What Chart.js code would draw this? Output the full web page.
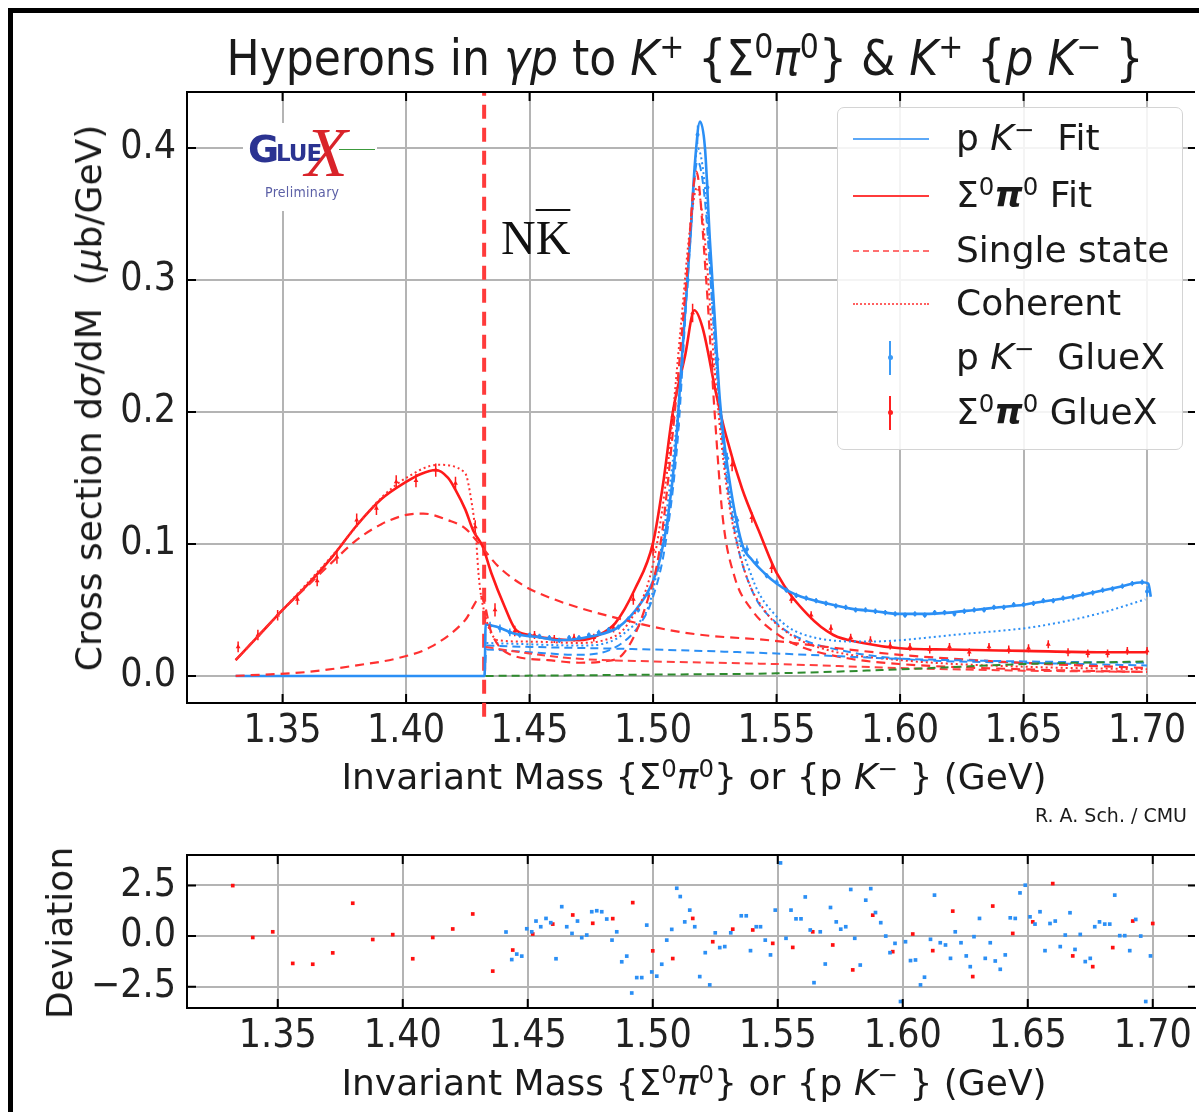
<!DOCTYPE html>
<html lang="en">
<head>
<meta charset="UTF-8">
<title>Hyperons in γp to K+ {Σ0π0} & K+ {p K−}</title>
<script src="https://cdn.jsdelivr.net/npm/chart.js"></script>
<style>
  * { margin: 0; padding: 0; box-sizing: border-box; }
  body { width: 1199px; height: 1112px; background: #fff; position: relative; overflow: hidden;
         font-family: 'DejaVu Sans Condensed', 'DejaVu Sans', sans-serif; color: #1a1a1a; }
  .frame { position: absolute; left: 8px; top: 8px; width: 1400px; height: 1300px; border: 5px solid #000; }
  canvas { position: absolute; left: 0; }
  #main { top: 0; }
  #dev { top: 800px; }
  .txt { position: absolute; white-space: nowrap; line-height: 1; }
  sup { font-size: 0.68em; vertical-align: 0.5em; line-height: 0; }
  .rot { transform: translate(-50%, -50%) rotate(-90deg); }
  .ctr { transform: translate(-50%, -50%); }
  .norm { font-family: 'DejaVu Sans', sans-serif; }
  #title { left: 0; width: 1370px; top: 34px; text-align: center; font-size: 49px; }
  #ylab { left: 89px; top: 398px; font-size: 36px; }
  #xlab { left: 694px; top: 777px; font-size: 36px; }
  #xlab2 { left: 694px; top: 1083px; font-size: 36px; }
  #devlab { left: 60px; top: 933px; font-size: 36px; }
  #credit { left: 1035px; top: 806px; font-size: 19px; }
  #nk { left: 501px; top: 214px; font-family: 'Liberation Serif', serif; font-size: 48px; color: #111; }
  #nk .bar { text-decoration: overline; text-decoration-thickness: 2px; }
  #legend { position: absolute; left: 837px; top: 107px; width: 346px; height: 343px;
            border: 1.5px solid #d4d4d4; border-radius: 7px; background: rgba(255,255,255,0.85);
            font-family: 'DejaVu Sans', sans-serif; font-size: 36px; }
  #legend .row { position: absolute; left: 0; height: 0; width: 100%; }
  #legend .smp { position: absolute; left: 15px; width: 76px; top: -1px; }
  #legend .lab { position: absolute; left: 118px; top: 0; transform: translateY(-52%); white-space: nowrap; line-height: 1; }
  #legend .eb { position: absolute; left: 51px; width: 2px; height: 34px; top: -17px; }
  #legend .eb::after { content: ''; position: absolute; left: -1.5px; top: 14px; width: 5px; height: 5px; border-radius: 50%; background: inherit; }
  #logo { position: absolute; left: 243px; top: 123px; width: 134px; height: 88px; background: #fff; }
  #logo span { position: absolute; font-weight: bold; color: #2b3391; font-family: 'DejaVu Sans', sans-serif; }
  #logo .pre { position: absolute; left: 22px; top: 61px; font-size: 14px; color: #5b5fa6; font-family: 'DejaVu Sans Condensed', sans-serif; letter-spacing: 0.3px; }
</style>
</head>
<body>
<div class="frame"></div>
<canvas id="main" width="1199" height="770"></canvas>
<canvas id="dev" width="1199" height="260"></canvas>

<div id="logo">
  <span style="left:5px;top:4px;font-size:38px;">G</span>
  <span style="left:33px;top:17px;font-size:23px;letter-spacing:-1px;">LUE</span>
  <div style="position:absolute;left:96px;top:26px;width:36px;height:1px;background:#3c9a3c;"></div>
  <span style="left:62px;top:-10px;font-size:70px;color:#d9232a;font-family:'Liberation Serif',serif;font-style:italic;font-weight:normal;">X</span>
  <div class="pre">Preliminary</div>
</div>

<div id="nk" class="txt">N<span class="bar">K</span></div>

<div id="title" class="txt">Hyperons in <i>γp</i> to <i>K</i><sup>+</sup> {Σ<sup>0</sup><i>π</i><sup>0</sup>} &amp; <i>K</i><sup>+</sup> {<i>p K</i><sup>−</sup> }</div>
<div id="ylab" class="txt rot norm">Cross section d<i>σ</i>/dM&nbsp; (<i>μ</i>b/GeV)</div>
<div id="xlab" class="txt ctr norm">Invariant Mass {Σ<sup>0</sup><i>π</i><sup>0</sup>} or {p <i>K</i><sup>−</sup> } (GeV)</div>
<div id="credit" class="txt norm">R. A. Sch. / CMU</div>
<div id="devlab" class="txt rot norm">Deviation</div>
<div id="xlab2" class="txt ctr norm">Invariant Mass {Σ<sup>0</sup><i>π</i><sup>0</sup>} or {p <i>K</i><sup>−</sup> } (GeV)</div>

<div id="legend">
  <div class="row" style="top:31px"><span class="smp" style="border-top:2px solid #5ca8f7"></span><span class="lab">p <i>K</i><sup>−</sup>&nbsp; Fit</span></div>
  <div class="row" style="top:88px"><span class="smp" style="border-top:2px solid #ff3b3b"></span><span class="lab">Σ<sup>0</sup><i><b>π</b></i><sup>0</sup> Fit</span></div>
  <div class="row" style="top:143px"><span class="smp" style="border-top:2px dashed #ff7070"></span><span class="lab">Single state</span></div>
  <div class="row" style="top:196px"><span class="smp" style="border-top:2px dotted #ff6060"></span><span class="lab">Coherent</span></div>
  <div class="row" style="top:250px"><span class="eb" style="background:#3d9bf5"></span><span class="lab">p <i>K</i><sup>−</sup>&nbsp; GlueX</span></div>
  <div class="row" style="top:305px"><span class="eb" style="background:#ff2020"></span><span class="lab">Σ<sup>0</sup><i><b>π</b></i><sup>0</sup> GlueX</span></div>
</div>

<script>
// axes
const massTicks = [1.35, 1.40, 1.45, 1.50, 1.55, 1.60, 1.65, 1.70];
const xsecTicks = [0.0, 0.1, 0.2, 0.3, 0.4];
const devTicks = [-2.5, 0.0, 2.5];
const thresholdMass = 1.4316;

// Σ0π0 fit (solid red)
const redFitX = [1.331, 1.34, 1.35, 1.36, 1.37, 1.38, 1.39, 1.40, 1.406, 1.412, 1.417, 1.42, 1.424, 1.4272, 1.431, 1.4345, 1.44, 1.444, 1.45, 1.46, 1.47, 1.478, 1.4847, 1.4927, 1.50, 1.504, 1.508, 1.513, 1.5167, 1.52, 1.5254, 1.5294, 1.536, 1.5428, 1.55, 1.5628, 1.573, 1.585, 1.60, 1.62, 1.65, 1.68, 1.70];
const redFitY = [0.012, 0.030, 0.050, 0.069, 0.090, 0.114, 0.134, 0.147, 0.153, 0.156, 0.150, 0.141, 0.126, 0.110, 0.098, 0.078, 0.052, 0.036, 0.031, 0.028, 0.027, 0.031, 0.040, 0.066, 0.101, 0.145, 0.200, 0.243, 0.277, 0.264, 0.215, 0.183, 0.142, 0.110, 0.078, 0.046, 0.031, 0.025, 0.021, 0.020, 0.019, 0.018, 0.018];

// single states, Σ0π0 (dashed red)
const redSingle1X = [1.331, 1.34, 1.35, 1.36, 1.37, 1.38, 1.39, 1.40, 1.407, 1.417, 1.4238, 1.4305, 1.4373, 1.448, 1.46, 1.4695, 1.485, 1.5058, 1.52, 1.5473, 1.57, 1.60, 1.63, 1.66, 1.70];
const redSingle1Y = [0.012, 0.030, 0.050, 0.068, 0.086, 0.103, 0.115, 0.122, 0.123, 0.118, 0.112, 0.098, 0.083, 0.068, 0.058, 0.052, 0.044, 0.035, 0.031, 0.027, 0.022, 0.016, 0.012, 0.009, 0.006];
const redSingle2X = [1.331, 1.36, 1.38, 1.397, 1.41, 1.4238, 1.4305, 1.4345, 1.4413, 1.4574, 1.47, 1.48, 1.488, 1.4965, 1.503, 1.5088, 1.5135, 1.5175, 1.5215, 1.5249, 1.5282, 1.533, 1.54, 1.55, 1.56, 1.58, 1.60, 1.65, 1.70];
const redSingle2Y = [0.0, 0.003, 0.008, 0.0136, 0.022, 0.042, 0.060, 0.033, 0.017, 0.012, 0.010, 0.011, 0.017, 0.050, 0.100, 0.200, 0.300, 0.382, 0.300, 0.200, 0.120, 0.075, 0.050, 0.032, 0.022, 0.013, 0.009, 0.005, 0.003];
const redSingle3X = [1.4322, 1.45, 1.47, 1.50, 1.55, 1.60, 1.65, 1.70];
const redSingle3Y = [0.022, 0.017, 0.013, 0.011, 0.009, 0.006, 0.004, 0.003];

// coherent, Σ0π0 (dotted red)
const redCohX = [1.331, 1.35, 1.37, 1.39, 1.40, 1.413, 1.4238, 1.4264, 1.4283, 1.4293, 1.4306, 1.4373, 1.45, 1.4695, 1.48, 1.49, 1.50, 1.506, 1.511, 1.515, 1.5178, 1.521, 1.525, 1.53, 1.537, 1.545, 1.555, 1.57, 1.60, 1.65, 1.70];
const redCohY = [0.012, 0.050, 0.091, 0.135, 0.150, 0.160, 0.154, 0.133, 0.105, 0.078, 0.058, 0.027, 0.026, 0.025, 0.027, 0.040, 0.085, 0.160, 0.260, 0.340, 0.370, 0.330, 0.230, 0.140, 0.080, 0.050, 0.032, 0.020, 0.012, 0.007, 0.005];

// p K− fit (solid blue)
const blueFitX = [1.331, 1.4318, 1.4322, 1.437, 1.444, 1.455, 1.462, 1.475, 1.486, 1.495, 1.50, 1.503, 1.506, 1.509, 1.512, 1.515, 1.517, 1.519, 1.521, 1.523, 1.525, 1.527, 1.53, 1.536, 1.54, 1.545, 1.55, 1.555, 1.56, 1.57, 1.58, 1.59, 1.60, 1.61, 1.62, 1.63, 1.64, 1.65, 1.66, 1.67, 1.68, 1.69, 1.698, 1.7005, 1.7015];
const blueFitY = [0.0, 0.0, 0.039, 0.037, 0.032, 0.029, 0.027, 0.030, 0.037, 0.055, 0.072, 0.090, 0.120, 0.170, 0.250, 0.330, 0.390, 0.420, 0.400, 0.330, 0.270, 0.210, 0.160, 0.100, 0.088, 0.078, 0.070, 0.064, 0.060, 0.055, 0.051, 0.049, 0.047, 0.047, 0.048, 0.050, 0.052, 0.054, 0.057, 0.060, 0.064, 0.068, 0.071, 0.070, 0.060];

// single states, p K− (dashed blue)
const blueSingle1X = [1.4318, 1.4325, 1.45, 1.47, 1.485, 1.495, 1.50, 1.505, 1.51, 1.514, 1.518, 1.521, 1.524, 1.528, 1.533, 1.54, 1.55, 1.56, 1.58, 1.60, 1.65, 1.70];
const blueSingle1Y = [0.0, 0.020, 0.018, 0.016, 0.022, 0.040, 0.060, 0.100, 0.180, 0.300, 0.390, 0.360, 0.280, 0.180, 0.110, 0.065, 0.040, 0.028, 0.018, 0.013, 0.010, 0.008];
const blueSingle2X = [1.4325, 1.45, 1.50, 1.55, 1.60, 1.65, 1.70];
const blueSingle2Y = [0.023, 0.022, 0.020, 0.017, 0.013, 0.011, 0.010];

// coherent, p K− (dotted blue)
const blueCohX = [1.4325, 1.45, 1.47, 1.49, 1.50, 1.51, 1.515, 1.518, 1.521, 1.525, 1.53, 1.54, 1.55, 1.56, 1.5864, 1.6267, 1.6537, 1.68, 1.6993];
const blueCohY = [0.025, 0.024, 0.023, 0.035, 0.065, 0.200, 0.330, 0.400, 0.370, 0.250, 0.150, 0.075, 0.045, 0.032, 0.026, 0.032, 0.037, 0.047, 0.058];

// background (dashed green)
const greenX = [1.4322, 1.47, 1.50, 1.55, 1.60, 1.65, 1.70];
const greenY = [0.0, 0.0005, 0.001, 0.002, 0.005, 0.009, 0.011];

// GlueX Σ0π0 data
const redDataX = [1.332, 1.340, 1.348, 1.356, 1.364, 1.372, 1.380, 1.388, 1.396, 1.404, 1.412, 1.420, 1.428, 1.436, 1.444, 1.452, 1.460, 1.468, 1.476, 1.484, 1.492, 1.500, 1.508, 1.516, 1.524, 1.532, 1.540, 1.548, 1.556, 1.564, 1.572, 1.580, 1.588, 1.596, 1.604, 1.612, 1.620, 1.628, 1.636, 1.644, 1.652, 1.660, 1.668, 1.676, 1.684, 1.692, 1.700];
const redDataY = [0.022, 0.031, 0.046, 0.058, 0.072, 0.090, 0.118, 0.127, 0.147, 0.148, 0.156, 0.146, 0.113, 0.050, 0.034, 0.031, 0.028, 0.029, 0.029, 0.036, 0.058, 0.096, 0.197, 0.275, 0.235, 0.160, 0.120, 0.082, 0.058, 0.046, 0.036, 0.029, 0.027, 0.023, 0.022, 0.020, 0.022, 0.018, 0.022, 0.020, 0.021, 0.024, 0.018, 0.017, 0.017, 0.019, 0.019];
const redDataErr = [0.004, 0.004, 0.004, 0.004, 0.004, 0.005, 0.005, 0.005, 0.005, 0.005, 0.005, 0.005, 0.005, 0.005, 0.004, 0.003, 0.003, 0.003, 0.003, 0.003, 0.004, 0.005, 0.006, 0.007, 0.006, 0.005, 0.004, 0.004, 0.003, 0.003, 0.003, 0.003, 0.003, 0.003, 0.003, 0.003, 0.003, 0.003, 0.003, 0.003, 0.003, 0.003, 0.003, 0.003, 0.003, 0.003, 0.003];

// GlueX p K− data
const blueDataX = [1.434, 1.438, 1.442, 1.446, 1.450, 1.454, 1.458, 1.462, 1.466, 1.470, 1.474, 1.478, 1.482, 1.486, 1.490, 1.494, 1.498, 1.502, 1.506, 1.510, 1.514, 1.518, 1.522, 1.526, 1.530, 1.534, 1.538, 1.542, 1.546, 1.550, 1.554, 1.558, 1.562, 1.566, 1.570, 1.574, 1.578, 1.582, 1.586, 1.590, 1.594, 1.598, 1.602, 1.606, 1.610, 1.614, 1.618, 1.622, 1.626, 1.630, 1.634, 1.638, 1.642, 1.646, 1.650, 1.654, 1.658, 1.662, 1.666, 1.670, 1.674, 1.678, 1.682, 1.686, 1.690, 1.694, 1.698, 1.700];
const blueDataY = [0.038, 0.036, 0.033, 0.031, 0.031, 0.030, 0.029, 0.027, 0.029, 0.029, 0.031, 0.033, 0.035, 0.037, 0.043, 0.050, 0.062, 0.082, 0.118, 0.190, 0.300, 0.410, 0.370, 0.240, 0.165, 0.118, 0.096, 0.086, 0.076, 0.071, 0.065, 0.061, 0.059, 0.057, 0.055, 0.053, 0.052, 0.050, 0.050, 0.049, 0.048, 0.047, 0.046, 0.047, 0.046, 0.048, 0.048, 0.047, 0.049, 0.050, 0.050, 0.052, 0.052, 0.054, 0.054, 0.055, 0.057, 0.057, 0.059, 0.060, 0.062, 0.063, 0.065, 0.066, 0.068, 0.070, 0.071, 0.064];
const blueDataErr = [0.003, 0.003, 0.003, 0.002, 0.002, 0.002, 0.002, 0.002, 0.002, 0.002, 0.002, 0.002, 0.002, 0.002, 0.002, 0.002, 0.003, 0.003, 0.004, 0.005, 0.006, 0.007, 0.006, 0.005, 0.004, 0.003, 0.003, 0.003, 0.002, 0.002, 0.002, 0.002, 0.002, 0.002, 0.002, 0.002, 0.002, 0.002, 0.002, 0.002, 0.002, 0.002, 0.002, 0.002, 0.002, 0.002, 0.002, 0.002, 0.002, 0.002, 0.002, 0.002, 0.002, 0.002, 0.002, 0.002, 0.002, 0.002, 0.002, 0.002, 0.002, 0.002, 0.002, 0.002, 0.002, 0.002, 0.002, 0.004];

// deviation panel: [mass, deviation]
const devRed = [[1.332,2.49],[1.340,-0.07],[1.348,0.21],[1.356,-1.35],[1.364,-1.39],[1.372,-0.83],[1.380,1.62],[1.388,-0.17],[1.396,0.07],[1.404,-1.12],[1.412,-0.07],[1.420,0.35],[1.428,1.09],[1.436,-1.73],[1.444,-0.69],[1.452,0.10],[1.460,0.59],[1.468,1.04],[1.476,0.63],[1.484,0.86],[1.492,1.65],[1.500,-0.73],[1.508,-1.11],[1.516,0.87],[1.524,-0.28],[1.532,0.34],[1.540,0.30],[1.548,-0.36],[1.556,-0.56],[1.564,0.21],[1.572,-0.44],[1.580,-1.67],[1.588,1.03],[1.596,-0.77],[1.604,0.10],[1.612,-0.72],[1.620,1.23],[1.628,-2.0],[1.636,1.48],[1.644,0.13],[1.652,0.70],[1.660,2.59],[1.668,-0.98],[1.676,-1.51],[1.684,-0.57],[1.692,0.74],[1.700,0.62]];
const devBlue = [[1.4413,0.20],[1.4436,-1.16],[1.4456,-0.89],[1.4476,-0.99],[1.4496,0.36],[1.4516,0.21],[1.4533,0.74],[1.4552,0.46],[1.4573,0.87],[1.4592,0.66],[1.4613,-1.12],[1.4636,1.45],[1.4656,0.46],[1.4677,0.13],[1.4699,0.74],[1.4716,-0.08],[1.4736,0.05],[1.4756,1.20],[1.4776,1.25],[1.4796,1.20],[1.4816,0.84],[1.4837,-0.20],[1.4856,0.21],[1.4876,-1.27],[1.4896,-0.99],[1.4916,-2.81],[1.4936,-2.05],[1.4956,-2.05],[1.4976,0.54],[1.4996,-1.77],[1.5016,-1.98],[1.5036,-1.39],[1.5056,-0.20],[1.5076,0.33],[1.5096,2.36],[1.5110,1.95],[1.5128,0.70],[1.5148,1.28],[1.5168,0.46],[1.5188,-2.0],[1.5210,-0.82],[1.5228,-2.41],[1.5250,0.16],[1.5268,-0.57],[1.5288,-0.52],[1.5312,0.16],[1.5354,1.0],[1.5374,1.0],[1.5391,-0.72],[1.5414,0.46],[1.5431,0.46],[1.5450,-0.20],[1.5471,-0.93],[1.5490,1.28],[1.5511,3.61],[1.5533,-0.11],[1.5553,1.28],[1.5573,0.85],[1.5593,0.85],[1.5610,1.93],[1.5630,0.30],[1.5645,-2.30],[1.5670,0.21],[1.5690,-1.38],[1.5711,1.41],[1.5734,0.70],[1.5752,0.34],[1.5772,0.46],[1.5792,2.30],[1.5808,-0.11],[1.5830,-1.43],[1.5852,1.77],[1.5872,2.34],[1.5891,1.16],[1.5912,0.66],[1.5932,0.0],[1.5949,-0.82],[1.5969,-0.36],[1.5991,-3.23],[1.6011,-0.28],[1.6031,-1.21],[1.6051,-1.18],[1.6071,-2.41],[1.6087,-2.03],[1.6111,-0.16],[1.6127,2.02],[1.6150,-0.33],[1.6171,-0.44],[1.6191,-1.10],[1.6210,0.21],[1.6233,-0.33],[1.6254,-0.98],[1.6270,-1.51],[1.6285,-0.03],[1.6307,0.87],[1.6330,-1.10],[1.6350,-0.33],[1.6370,-1.23],[1.6390,-1.64],[1.6410,-0.93],[1.6430,0.90],[1.6450,0.87],[1.6469,2.13],[1.6490,2.51],[1.6509,0.95],[1.6529,0.59],[1.6549,1.20],[1.6569,-0.72],[1.6589,0.62],[1.6610,0.74],[1.6630,-0.52],[1.6650,0.05],[1.6669,1.15],[1.6689,-0.66],[1.6710,0.08],[1.6730,-1.26],[1.6750,-1.10],[1.6768,0.46],[1.6787,0.70],[1.6808,0.59],[1.6828,0.59],[1.6848,2.02],[1.6868,0.02],[1.6888,0.02],[1.6908,-0.72],[1.6932,0.82],[1.6952,0.0],[1.6972,-3.23],[1.6991,-0.98]];

Chart.defaults.font.family = "'DejaVu Sans Condensed', 'DejaVu Sans', sans-serif";
Chart.defaults.color = '#222';

const RED = '#ff1a1a', BLUE = '#2b8ff5', GREEN = '#2e8b2e';
const pts = (xs, ys) => xs.map((x, i) => ({ x: x, y: ys[i] }));

function curve(xs, ys, color, dash, width) {
  return { data: pts(xs, ys), showLine: true, borderColor: color, borderWidth: width || 2,
           borderDash: dash || [], pointRadius: 0, cubicInterpolationMode: 'monotone' };
}

// draws error bars for datasets carrying an errors array
const errorBars = {
  id: 'errorBars',
  beforeDatasetDraw(chart, args) {
    const ds = chart.data.datasets[args.index];
    if (!ds.errors) return;
    const { ctx, scales: { x, y } } = chart;
    ctx.save();
    ctx.strokeStyle = ds.borderColor;
    ctx.lineWidth = 1.5;
    ctx.beginPath();
    ds.data.forEach((p, j) => {
      const px = x.getPixelForValue(p.x);
      ctx.moveTo(px, y.getPixelForValue(p.y - ds.errors[j]));
      ctx.lineTo(px, y.getPixelForValue(p.y + ds.errors[j]));
    });
    ctx.stroke();
    ctx.restore();
  }
};

// top spine and inward ticks like matplotlib
const spines = {
  id: 'spines',
  afterDraw(chart) {
    const { ctx, chartArea: a, scales: { x, y } } = chart;
    ctx.save();
    ctx.strokeStyle = '#000';
    ctx.lineWidth = 2;
    ctx.beginPath();
    ctx.moveTo(a.left, a.top); ctx.lineTo(a.right, a.top);
    x.ticks.forEach(t => {
      const px = x.getPixelForValue(t.value);
      ctx.moveTo(px, a.bottom); ctx.lineTo(px, a.bottom - 9);
      ctx.moveTo(px, a.top); ctx.lineTo(px, a.top + 9);
    });
    y.ticks.forEach(t => {
      const py = y.getPixelForValue(t.value);
      ctx.moveTo(a.left, py); ctx.lineTo(a.left + 9, py);
      ctx.moveTo(a.right, py); ctx.lineTo(a.right - 7, py);
    });
    ctx.stroke();
    ctx.restore();
  }
};

function axes(xMin, xMax, yMin, yMax, yTicks, yFmt, xHeight) {
  return {
    x: {
      type: 'linear', min: xMin, max: xMax,
      afterBuildTicks: s => { s.ticks = massTicks.map(v => ({ value: v })); },
      afterFit: s => { s.height = xHeight; },
      grid: { color: '#b4b4b4', lineWidth: 2, drawTicks: false },
      border: { color: '#000', width: 2 },
      ticks: { padding: 5, font: { size: 39 }, maxRotation: 0, autoSkip: false, callback: v => v.toFixed(2) }
    },
    y: {
      type: 'linear', min: yMin, max: yMax,
      afterBuildTicks: s => { s.ticks = yTicks.map(v => ({ value: v })); },
      afterFit: s => { s.width = 187; },
      grid: { color: '#b4b4b4', lineWidth: 2, drawTicks: false },
      border: { color: '#000', width: 2 },
      ticks: { padding: 11, font: { size: 39 }, autoSkip: false, callback: yFmt }
    }
  };
}

const common = {
  responsive: false, animation: false, events: [],
  plugins: { legend: { display: false }, tooltip: { enabled: false } }
};

new Chart(document.getElementById('main'), {
  type: 'scatter',
  data: {
    datasets: [
      curve(greenX, greenY, GREEN, [8, 5], 2),
      curve(redSingle3X, redSingle3Y, '#ff4040', [8, 5], 2),
      curve(blueSingle2X, blueSingle2Y, BLUE, [8, 5], 2),
      curve(redSingle1X, redSingle1Y, '#ff3030', [9, 6], 2.2),
      curve(redSingle2X, redSingle2Y, '#ff3030', [9, 6], 2.2),
      curve(redCohX, redCohY, '#ff3030', [2, 3], 2),
      curve(blueSingle1X, blueSingle1Y, BLUE, [8, 5], 2),
      curve(blueCohX, blueCohY, BLUE, [2, 3], 2),
      { data: pts(blueDataX, blueDataY), errors: blueDataErr, borderColor: BLUE, backgroundColor: BLUE,
        pointRadius: 2, pointBorderWidth: 0 },
      curve(blueFitX, blueFitY, BLUE, [], 2.6),
      { data: pts(redDataX, redDataY), errors: redDataErr, borderColor: RED, backgroundColor: RED,
        pointRadius: 2.8, pointBorderWidth: 0, pointStyle: 'triangle' },
      curve(redFitX, redFitY, RED, [], 2.6),
      { data: [{ x: thresholdMass, y: -0.031 }, { x: thresholdMass, y: 0.4424 }], showLine: true,
        borderColor: '#ff3b3b', borderWidth: 4, borderDash: [14, 9], pointRadius: 0, clip: false }
    ]
  },
  options: Object.assign({}, common, {
    layout: { padding: { top: 92, left: 0, right: 0, bottom: 0 } },
    scales: axes(1.3113, 1.7194, -0.0205, 0.4424, xsecTicks, v => v.toFixed(1), 67)
  }),
  plugins: [errorBars, spines]
});

new Chart(document.getElementById('dev'), {
  type: 'scatter',
  data: {
    datasets: [
      { data: devBlue.map(p => ({ x: p[0], y: p[1] })), backgroundColor: '#2b8ff5', pointRadius: 2.6,
        pointStyle: 'rect', pointBorderWidth: 0 },
      { data: devRed.map(p => ({ x: p[0], y: p[1] })), backgroundColor: '#ff1010', pointRadius: 2.6,
        pointStyle: 'rect', pointBorderWidth: 0 }
    ]
  },
  options: Object.assign({}, common, {
    layout: { padding: { top: 55, left: 0, right: 0, bottom: 0 } },
    scales: axes(1.3137, 1.7169, -3.55, 4.0, devTicks, v => (v < 0 ? '\u2212' : '') + Math.abs(v).toFixed(1), 52)
  }),
  plugins: [spines]
});
</script>
</body>
</html>
